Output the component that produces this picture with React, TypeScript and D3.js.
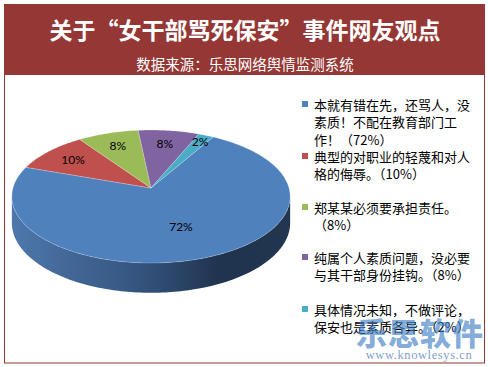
import React from "react";
import * as d3 from "d3";

const categories = [
  ["本就有错在先，还骂人，没", "素质！不配在教育部门工", "作！（72%）"],
  ["典型的对职业的轻蔑和对人", "格的侮辱。（10%）"],
  ["郑某某必须要承担责任。", "（8%）"],
  ["纯属个人素质问题，没必要", "与其干部身份挂钩。（8%）"],
  ["具体情况未知，不做评论，", "保安也是素质各异。（2%）"],
];
const values = [72, 10, 8, 8, 2];
const colors = ["#4f81bd", "#c0504d", "#9bbb59", "#8064a2", "#4bacc6"];
const title = "关于“女干部骂死保安”事件网友观点";
const subtitle = "数据来源：乐思网络舆情监测系统";

const W = 488;
const H = 367;

// pie geometry (a little perspective: near edge bigger than far edge)
const cx = 151;
const cy = 188;
const rx = 138;
const ry = 65.4;
const persp = 0.128;
const depth = 26;
const startDeg = 30;

function proj(a: number, f: number): [number, number] {
  const u = f * Math.sin(a);
  const v = -f * Math.cos(a);
  const w = 1 / (1 - persp * v);
  return [cx + rx * u * w, cy + ry * v * w];
}
function depthAt(a: number) {
  const v = -Math.cos(a);
  return depth / (1 - persp * v);
}

export default function App() {
  const pie = d3
    .pie<number>()
    .sort(null)
    .value((d) => d)
    .startAngle((startDeg * Math.PI) / 180)
    .endAngle((startDeg * Math.PI) / 180 + 2 * Math.PI);
  const arcs = pie(values);
  const line = d3.line();

  const sampleArc = (a0: number, a1: number) => {
    const n = Math.max(2, Math.ceil(Math.abs(a1 - a0) / 0.02));
    return d3.range(n + 1).map((i) => a0 + ((a1 - a0) * i) / n);
  };

  // visible side runs between the two silhouette angles, through the front
  const sideR = Math.acos(-persp);
  const sideL = 2 * Math.PI - sideR;

  const sides: { d: string; i: number }[] = [];
  arcs.forEach((a, i) => {
    for (const k of [-1, 0, 1]) {
      const s = Math.max(a.startAngle + k * 2 * Math.PI, sideR);
      const e = Math.min(a.endAngle + k * 2 * Math.PI, sideL);
      if (e > s) {
        const pts = sampleArc(s, e);
        const top = pts.map((t) => proj(t, 1));
        const bottom = pts
          .slice()
          .reverse()
          .map((t) => {
            const p = proj(t, 1);
            return [p[0], p[1] + depthAt(t)] as [number, number];
          });
        sides.push({ d: line([...top, ...bottom])! + "Z", i });
      }
    }
  });

  // big slice label sits nearer the middle, tiny one pushed out
  const labelFrac = (v: number) => (v > 50 ? 0.58 : v < 5 ? 0.88 : 0.75);

  const legendX = 302;
  const legendY = [104, 156, 207, 257, 309];
  const lineGap = 17.5;

  return (
    <svg
      width={W}
      height={H}
      style={{ position: "absolute", left: 0, top: 0, background: "#fff" }}
    >
      <defs>
        <linearGradient id="side0" x1={cx - rx} x2={cx + rx} y1="0" y2="0" gradientUnits="userSpaceOnUse">
          <stop offset="0" stopColor="#4d77ab" />
          <stop offset="0.45" stopColor="#35557f" />
          <stop offset="0.75" stopColor="#20334f" />
          <stop offset="1" stopColor="#22364f" />
        </linearGradient>
      </defs>
      <rect x={4.5} y={4.5} width={480} height={358.5} fill="#fff" stroke="#953735" strokeWidth={1} />
      <rect x={4} y={4} width={481} height={71} fill="#953735" />
      <text
        x={245}
        y={39}
        textAnchor="middle"
        fill="#fff"
        fontFamily="'Noto Sans CJK SC', sans-serif"
        fontWeight="bold"
        fontSize={23}
      >
        {title}
      </text>
      <text
        x={245}
        y={70}
        textAnchor="middle"
        fill="#fff"
        fontFamily="'Noto Sans CJK SC', sans-serif"
        fontSize={14.5}
      >
        {subtitle}
      </text>

      {sides.map((s, k) => (
        <path key={"s" + k} d={s.d} fill={s.i === 0 ? "url(#side0)" : d3.color(colors[s.i])!.darker(1).toString()} />
      ))}
      {arcs.map((a, i) => {
        const pts = [[cx, cy] as [number, number], ...sampleArc(a.startAngle, a.endAngle).map((t) => proj(t, 1))];
        return (
          <path
            key={"p" + i}
            d={line(pts)! + "Z"}
            fill={colors[i]}
            stroke="#ffffff"
            strokeOpacity={0.35}
            strokeWidth={0.6}
          />
        );
      })}
      {arcs.map((a, i) => {
        const [x, y] = proj((a.startAngle + a.endAngle) / 2, labelFrac(a.value));
        return (
          <text
            key={"l" + i}
            x={x}
            y={y}
            textAnchor="middle"
            dominantBaseline="central"
            fontFamily="Lato, 'Open Sans', sans-serif"
            fontSize={12}
            fill="#000"
          >
            {d3.format(".0%")(a.value / d3.sum(values))}
          </text>
        );
      })}

      {categories.map((lines, i) => (
        <g key={"g" + i}>
          <rect x={legendX} y={legendY[i] - 3} width={6} height={6} fill={colors[i]} />
          {lines.map((t, j) => (
            <text
              key={j}
              x={legendX + 12}
              y={legendY[i] + j * lineGap}
              dominantBaseline="central"
              fontFamily="'Noto Sans CJK SC', sans-serif"
              fontSize={13}
              fill="#000"
            >
              {t}
            </text>
          ))}
        </g>
      ))}

      <text
        x={420}
        y={345}
        textAnchor="middle"
        fontFamily="'Noto Sans CJK SC', sans-serif"
        fontWeight="900"
        fontSize={31}
        fill="#3d7cc4"
        fillOpacity={0.65}
        letterSpacing={1}
      >
        乐思软件
      </text>
      <text
        x={419}
        y={359}
        textAnchor="middle"
        fontFamily="'Liberation Serif', serif"
        fontSize={12.5}
        fill="#4f7bb5"
        fillOpacity={0.75}
        letterSpacing={0.6}
      >
        www.knowlesys.cn
      </text>
    </svg>
  );
}
